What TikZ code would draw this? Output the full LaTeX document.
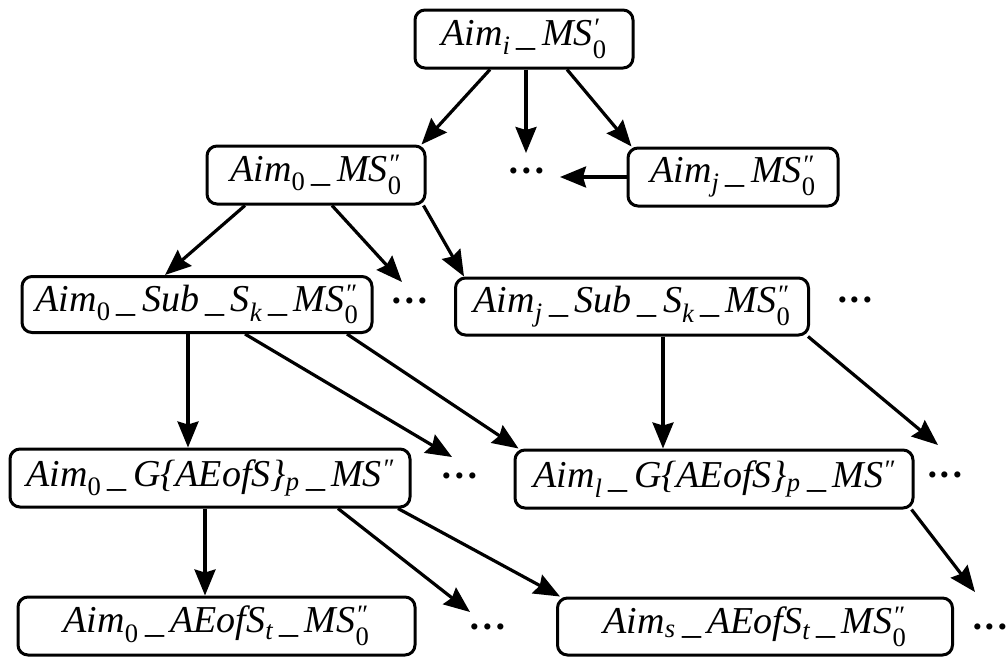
\documentclass[tikz,border=0pt]{standalone}
\usepackage{amsmath}
\usepackage{fontspec}
\setmainfont{Liberation Serif}
\usetikzlibrary{arrows.meta,calc}
\newcommand{\lo}[1]{$_{\text{#1}}$}
\newcommand{\lohi}[2]{$^{\text{#2}}_{\text{#1}}$}
\newcommand{\us}{\,\_\,}
\tikzset{
  box/.style={draw, line width=3pt, rounded corners=10pt, inner sep=0pt,
    font=\fontsize{38}{42}\selectfont\itshape},
  dotsnode/.style={inner sep=0pt, font=\fontsize{38}{42}\selectfont\bfseries},
  arr/.style={line width=3.2pt, -{Stealth[length=26pt,width=21pt,inset=3pt]}}
}
\begin{document}
\begin{tikzpicture}[x=1pt,y=-1pt]
\useasboundingbox (0,0) rectangle (1008,659);
% boxes
\node[box, minimum width=218pt, minimum height=58pt] (T)  at (524,39)    {Aim\lo{i}\us MS\lohi{\upshape 0}{′}};
\node[box, minimum width=218pt, minimum height=58pt] (A0) at (316,175)   {Aim\lo{\upshape 0}\us MS\lohi{\upshape 0}{″}};
\node[box, minimum width=210pt, minimum height=58pt] (Aj) at (733,177)   {Aim\lo{j}\us MS\lohi{\upshape 0}{″}};
\node[box, minimum width=350pt, minimum height=56pt] (S0) at (197,304.5) {Aim\lo{\upshape 0}\us Sub\us S\lo{k}\us MS\lohi{\upshape 0}{″}};
\node[box, minimum width=353pt, minimum height=57pt] (Sj) at (632,306.5) {Aim\lo{j}\us Sub\us S\lo{k}\us MS\lohi{\upshape 0}{″}};
\node[box, minimum width=400pt, minimum height=58pt] (G0) at (210,478)   {Aim\lo{\upshape 0}\us G\{AEofS\}\lo{p}\us MS$^{\text{″}}$};
\node[box, minimum width=398pt, minimum height=58pt] (Gl) at (714,479)   {Aim\lo{l}\us G\{AEofS\}\lo{p}\us MS$^{\text{″}}$};
\node[box, minimum width=397pt, minimum height=58pt] (B0) at (216.5,626) {Aim\lo{\upshape 0}\us AEofS\lo{t}\us MS\lohi{\upshape 0}{″}};
\node[box, minimum width=395pt, minimum height=57pt] (Bs) at (755,626.5) {Aim\lo{s}\us AEofS\lo{t}\us MS\lohi{\upshape 0}{″}};
% dots
\node[dotsnode] (d1) at (527,176) {···};
\node[dotsnode] (d2) at (410,306) {···};
\node[dotsnode] (d3) at (855,305) {···};
\node[dotsnode] (d4) at (460,481) {···};
\node[dotsnode] (d5) at (945,480) {···};
\node[dotsnode] (d6) at (488,632) {···};
\node[dotsnode] (d7) at (990,632) {···};
% free arrow ends
\coordinate (e0) at (560,177);
\coordinate (e1) at (526,153);
\coordinate (e2) at (402,282);
\coordinate (e3) at (452,457);
\coordinate (e4) at (938,445);
\coordinate (e5) at (470,612);
\coordinate (e6) at (975,592);
% connectors
\draw[arr] ([xshift=-34pt]T.south) -- ([xshift=-5pt]A0.north east);
\draw[arr] ([xshift=2pt]T.south) -- (e1);
\draw[arr] ([xshift=43pt]T.south) -- ([xshift=5pt]Aj.north west);
\draw[arr] (Aj.west) -- (e0);
\draw[arr] ([xshift=-71pt]A0.south) -- ([xshift=-32pt]S0.north);
\draw[arr] ([xshift=16pt]A0.south) -- (e2);
\draw[arr] ([xshift=-3pt]A0.south east) -- ([xshift=10pt]Sj.north west);
\draw[arr] ([xshift=-9pt]S0.south) -- ([xshift=-9pt]S0.south |- G0.north);
\draw[arr] ([xshift=48pt]S0.south) -- (e3);
\draw[arr] ([xshift=150pt]S0.south) -- ([xshift=5pt]Gl.north west);
\draw[arr] ([xshift=31pt]Sj.south) -- ([xshift=31pt]Sj.south |- Gl.north);
\draw[arr] ([xshift=-2pt]Sj.south east) -- (e4);
\draw[arr] ([xshift=-5pt]G0.south) -- ([xshift=-5pt]G0.south |- B0.north);
\draw[arr] ([xshift=128pt]G0.south) -- (e5);
\draw[arr] ([xshift=188pt]G0.south) -- ([xshift=4pt]Bs.north west);
\draw[arr] ([xshift=-3pt]Gl.south east) -- (e6);
\end{tikzpicture}
\end{document}
